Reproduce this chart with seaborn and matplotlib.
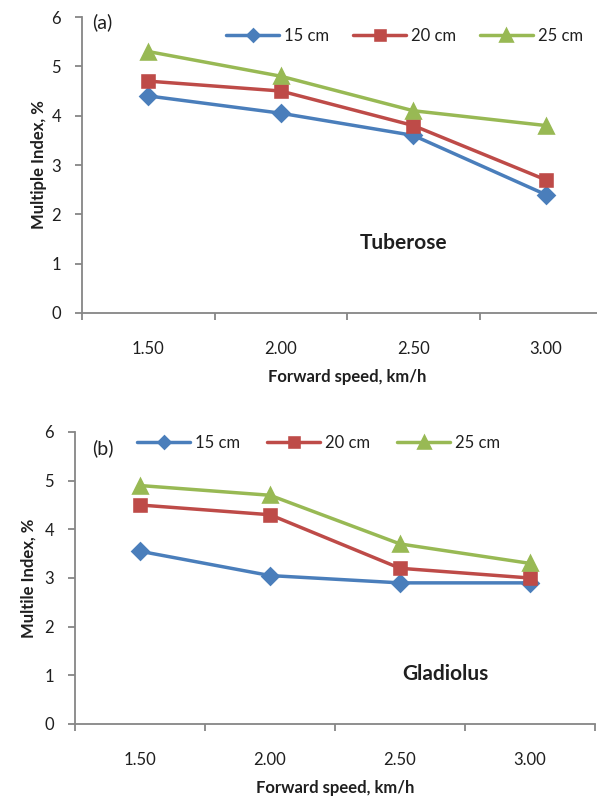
import matplotlib
matplotlib.use("Agg")
import matplotlib.pyplot as plt
import seaborn as sns
import pandas as pd

speeds = ["1.50", "2.00", "2.50", "3.00"]
spacings = ["15 cm", "20 cm", "25 cm"]
tuberose_15 = [4.4, 4.05, 3.6, 2.4]
tuberose_20 = [4.7, 4.5, 3.8, 2.7]
tuberose_25 = [5.3, 4.8, 4.1, 3.8]
gladiolus_15 = [3.55, 3.05, 2.9, 2.9]
gladiolus_20 = [4.5, 4.3, 3.2, 3.0]
gladiolus_25 = [4.9, 4.7, 3.7, 3.3]
y_ticks = [0, 1, 2, 3, 4, 5, 6]

colors = ["#4A7EBB", "#BE4B48", "#98B954"]
markers = ["D", "s", "^"]
msizes = [8, 9, 10]
axis_gray = "#868686"
text_col = "#1F1F1F"

sns.set_theme(style="white")
plt.rcParams["font.family"] = ["Lato", "DejaVu Sans"]

def make_df(series):
    rows = []
    for sp, vals in zip(spacings, series):
        for s, v in zip(speeds, vals):
            rows.append({"speed": s, "spacing": sp, "value": v})
    return pd.DataFrame(rows)

fig = plt.figure(figsize=(5.97, 8.02), dpi=100)
ax1 = fig.add_axes([82/597, 1-313/802, 530/597, (313-17)/802])
ax2 = fig.add_axes([75/597, 1-724/802, 520/597, (724-432)/802])

panels = [
    dict(ax=ax1, df=make_df([tuberose_15, tuberose_20, tuberose_25]), tag="(a)", tagpos=(0.019, 0.983),
         name="Tuberose", npos=(1.93, 1.42), ylab="Multiple Index, %", ylabpad=3,
         leg=(0.272, 0.936), colsp=1.4),
    dict(ax=ax2, df=make_df([gladiolus_15, gladiolus_20, gladiolus_25]), tag="(b)", tagpos=(0.033, 0.945),
         name="Gladiolus", npos=(2.35, 1.03), ylab="Multile Index, %", ylabpad=6,
         leg=(0.119, 0.962), colsp=1.6),
]

for p in panels:
    ax, df = p["ax"], p["df"]
    for i, sp in enumerate(spacings):
        sub = df[df["spacing"] == sp]
        sns.pointplot(data=sub, x="speed", y="value", order=speeds, color=colors[i],
                      marker=markers[i], markersize=msizes[i], linewidth=2.5,
                      ax=ax, label=sp, errorbar=None)
    ax.set_xlim(-0.5, 3.5)
    ax.set_ylim(0, 6)
    ax.set_yticks(y_ticks)
    ax.set_yticklabels([str(t) for t in y_ticks])
    for s in ["top", "right"]:
        ax.spines[s].set_visible(False)
    for s in ["left", "bottom"]:
        ax.spines[s].set_color(axis_gray)
        ax.spines[s].set_linewidth(1.3)
    ax.set_xticks([-0.5, 0.5, 1.5, 2.5, 3.5])
    ax.set_xticklabels([])
    ax.set_xticks([0, 1, 2, 3], minor=True)
    ax.set_xticklabels(speeds, minor=True)
    ax.tick_params(axis="x", which="major", direction="out", length=5, color=axis_gray, width=1.3, bottom=True)
    ax.tick_params(axis="x", which="minor", length=0, pad=20, labelsize=12, labelcolor=text_col)
    ax.tick_params(axis="y", direction="out", length=5, color=axis_gray, width=1.3, left=True,
                   labelsize=12, labelcolor=text_col, pad=10)
    ax.set_xlabel("Forward speed, km/h", fontsize=12, fontweight="bold", color=text_col, labelpad=9)
    ax.set_ylabel(p["ylab"], fontsize=12, fontweight="bold", color=text_col, labelpad=p["ylabpad"])
    ax.text(p["tagpos"][0], p["tagpos"][1], p["tag"], transform=ax.transAxes, fontsize=14,
            color=text_col, va="center", ha="left")
    ax.text(p["npos"][0], p["npos"][1], p["name"], fontsize=15, fontweight="bold", color=text_col,
            ha="center", va="center")
    ax.legend(loc="center left", ncol=3, frameon=False, fontsize=12, handlelength=3.2,
              bbox_to_anchor=p["leg"], columnspacing=p["colsp"], handletextpad=0.3,
              borderpad=0, borderaxespad=0, labelcolor=text_col, markerscale=0.8)

fig.savefig("out.png", dpi=100)
